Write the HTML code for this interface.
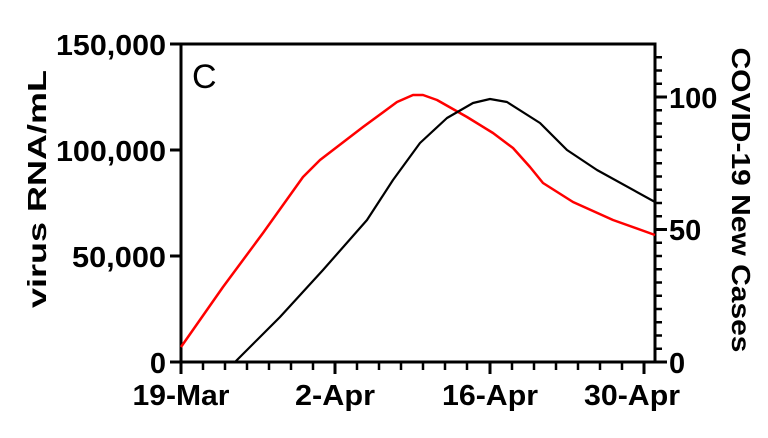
<!DOCTYPE html>
<html><head><style>body{margin:0;background:#fff}</style></head><body>
<svg width="768" height="433" xmlns="http://www.w3.org/2000/svg" font-family="Liberation Sans, sans-serif">
<rect width="768" height="433" fill="#fff"/>
<g stroke="#000" stroke-width="3" fill="none">
<path d="M181,44 H655 V362 H181 Z" stroke-width="3"/>
<path d="M181,44 H170 M181,150 H170 M181,256 H170 M181,362 H170"/>
<path d="M181,362 V374 M335,362 V374 M490,362 V374 M644,362 V374"/>
<path d="M203,362 V370 M225,362 V370 M247,362 V370 M269,362 V370 M291,362 V370 M313,362 V370 M357,362 V370 M379,362 V370 M401,362 V370 M423,362 V370 M445,362 V370 M467,362 V370 M512,362 V370 M534,362 V370 M556,362 V370 M578,362 V370 M600,362 V370 M622,362 V370" stroke-width="2.5"/>
<path d="M655,362 H667 M655,229.5 H667 M655,97 H667"/>
<path d="M655,348.8H662M655,335.5H662M655,322.3H662M655,309H662M655,295.8H662M655,282.5H662M655,269.3H662M655,256H662M655,242.8H662M655,216.3H662M655,203H662M655,189.8H662M655,176.5H662M655,163.3H662M655,150H662M655,136.8H662M655,123.5H662M655,110.3H662M655,83.8H662M655,70.5H662M655,57.3H662" stroke-width="2.5"/>
</g>
<polyline fill="none" stroke="#f00" stroke-width="2.5" stroke-linejoin="round" points="181,347 223,287 263,233 303,177 320,160 363,127 397,102 413,95 423,95 437,100 467,117 493,133 513,148 530,167 543,183 573,202 613,220 655,235"/>
<polyline fill="none" stroke="#000" stroke-width="2.2" stroke-linejoin="round" points="235,362 280,317 323,270 367,220 393,180 420,143 447,118 473,103 490,99 507,102 540,123 567,150 597,170 655,202"/>
<g font-weight="bold" font-size="29" fill="#000" lengthAdjust="spacingAndGlyphs">
<text x="166" y="55" text-anchor="end" textLength="110" lengthAdjust="spacingAndGlyphs">150,000</text>
<text x="166" y="161" text-anchor="end" textLength="110" lengthAdjust="spacingAndGlyphs">100,000</text>
<text x="166" y="267" text-anchor="end" textLength="94" lengthAdjust="spacingAndGlyphs">50,000</text>
<text x="166" y="373" text-anchor="end">0</text>
<text x="181" y="405" text-anchor="middle" textLength="97" lengthAdjust="spacingAndGlyphs">19-Mar</text>
<text x="335" y="405" text-anchor="middle" textLength="80" lengthAdjust="spacingAndGlyphs">2-Apr</text>
<text x="490" y="405" text-anchor="middle" textLength="96" lengthAdjust="spacingAndGlyphs">16-Apr</text>
<text x="632" y="405" text-anchor="middle" textLength="96" lengthAdjust="spacingAndGlyphs">30-Apr</text>
<text x="669" y="373">0</text>
<text x="669" y="240">50</text>
<text x="669" y="108">100</text>
<text transform="translate(46,189) rotate(-90)" text-anchor="middle" font-size="26" textLength="238" lengthAdjust="spacingAndGlyphs">virus RNA/mL</text>
<text transform="translate(732,200) rotate(90)" text-anchor="middle" font-size="26" textLength="305" lengthAdjust="spacingAndGlyphs">COVID-19 New Cases</text>
</g>
<text x="192" y="88" font-size="34" fill="#000">C</text>
</svg>
</body></html>
